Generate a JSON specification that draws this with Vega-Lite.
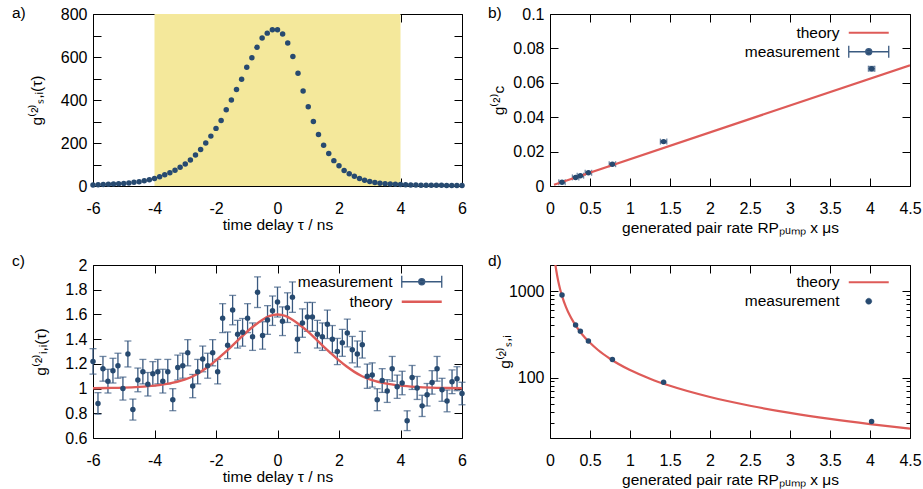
{
"$schema": "https://vega.github.io/schema/vega-lite/v6.json",
"background": "white",
"padding": {"left": 12, "top": 5, "right": 5, "bottom": 2},
"columns": 2,
"spacing": {"row": 79, "column": 88},
"bounds": "flush",
"resolve": {"scale": {"color": "independent", "fill": "independent", "stroke": "independent"}, "legend": {"color": "independent", "fill": "independent", "stroke": "independent"}},
"datasets": {
"a_shade": [{"x1": -4, "x2": 4, "y1": 0, "y2": 800}],
"a_pts": [
{"t":-6,"g":5},{"t":-5.833,"g":6},{"t":-5.667,"g":7},{"t":-5.5,"g":8},{"t":-5.333,"g":9},{"t":-5.167,"g":10},{"t":-5,"g":12},{"t":-4.833,"g":14},{"t":-4.667,"g":17},{"t":-4.5,"g":20},{"t":-4.333,"g":24},{"t":-4.167,"g":29},{"t":-4,"g":35},{"t":-3.833,"g":43},{"t":-3.667,"g":52},{"t":-3.5,"g":62},{"t":-3.333,"g":73},{"t":-3.167,"g":87},{"t":-3,"g":102},{"t":-2.833,"g":121},{"t":-2.667,"g":144},{"t":-2.5,"g":170},{"t":-2.333,"g":200},{"t":-2.167,"g":232},{"t":-2,"g":268},{"t":-1.833,"g":305},{"t":-1.667,"g":355},{"t":-1.5,"g":400},{"t":-1.333,"g":449},{"t":-1.167,"g":497},{"t":-1,"g":552},{"t":-0.833,"g":596},{"t":-0.667,"g":645},{"t":-0.5,"g":688},{"t":-0.333,"g":711},{"t":-0.167,"g":727},{"t":0,"g":727},{"t":0.167,"g":707},{"t":0.333,"g":665},{"t":0.5,"g":602},{"t":0.667,"g":524},{"t":0.833,"g":442},{"t":1,"g":369},{"t":1.167,"g":300},{"t":1.333,"g":240},{"t":1.5,"g":190},{"t":1.667,"g":151},{"t":1.833,"g":118},{"t":2,"g":94},{"t":2.167,"g":72},{"t":2.333,"g":57},{"t":2.5,"g":45},{"t":2.667,"g":35},{"t":2.833,"g":27},{"t":3,"g":21},{"t":3.167,"g":16},{"t":3.333,"g":13},{"t":3.5,"g":11},{"t":3.667,"g":9},{"t":3.833,"g":8},{"t":4,"g":7},{"t":4.167,"g":6},{"t":4.333,"g":5},{"t":4.5,"g":5},{"t":4.667,"g":4},{"t":4.833,"g":4},{"t":5,"g":3},{"t":5.167,"g":3},{"t":5.333,"g":3},{"t":5.5,"g":2},{"t":5.667,"g":2},{"t":5.833,"g":2},{"t":6,"g":2}
],
"b_pts": [
{"t":0.15,"g":0.0022,"ex":0.04,"ey":0.0004,"series":"measurement"},
{"t":0.32,"g":0.0050,"ex":0.04,"ey":0.0004,"series":"measurement"},
{"t":0.38,"g":0.0060,"ex":0.04,"ey":0.0004,"series":"measurement"},
{"t":0.48,"g":0.0077,"ex":0.04,"ey":0.0004,"series":"measurement"},
{"t":0.78,"g":0.0127,"ex":0.04,"ey":0.0005,"series":"measurement"},
{"t":1.42,"g":0.0258,"ex":0.04,"ey":0.0006,"series":"measurement"},
{"t":4.02,"g":0.0682,"ex":0.04,"ey":0.0013,"series":"measurement"}
],
"b_th": [{"t":0.05,"g":0.0007,"series":"theory"},{"t":4.5,"g":0.0702,"series":"theory"}],
"c_pts": [
{"t":-6,"g":1.22,"e":0.103,"series":"measurement"},
{"t":-5.838,"g":0.88,"e":0.087,"series":"measurement"},
{"t":-5.676,"g":1.16,"e":0.1,"series":"measurement"},
{"t":-5.514,"g":1.06,"e":0.096,"series":"measurement"},
{"t":-5.351,"g":1.145,"e":0.1,"series":"measurement"},
{"t":-5.189,"g":1.185,"e":0.101,"series":"measurement"},
{"t":-5.027,"g":1.0,"e":0.093,"series":"measurement"},
{"t":-4.865,"g":1.28,"e":0.105,"series":"measurement"},
{"t":-4.703,"g":0.83,"e":0.085,"series":"measurement"},
{"t":-4.541,"g":1.07,"e":0.096,"series":"measurement"},
{"t":-4.378,"g":1.137,"e":0.099,"series":"measurement"},
{"t":-4.216,"g":1.035,"e":0.095,"series":"measurement"},
{"t":-4.054,"g":1.12,"e":0.098,"series":"measurement"},
{"t":-3.892,"g":1.137,"e":0.099,"series":"measurement"},
{"t":-3.73,"g":1.06,"e":0.096,"series":"measurement"},
{"t":-3.568,"g":1.137,"e":0.099,"series":"measurement"},
{"t":-3.405,"g":0.91,"e":0.089,"series":"measurement"},
{"t":-3.243,"g":1.17,"e":0.101,"series":"measurement"},
{"t":-3.081,"g":1.185,"e":0.101,"series":"measurement"},
{"t":-2.919,"g":1.29,"e":0.106,"series":"measurement"},
{"t":-2.757,"g":1.02,"e":0.094,"series":"measurement"},
{"t":-2.595,"g":1.137,"e":0.099,"series":"measurement"},
{"t":-2.432,"g":1.24,"e":0.104,"series":"measurement"},
{"t":-2.27,"g":1.185,"e":0.101,"series":"measurement"},
{"t":-2.108,"g":1.29,"e":0.106,"series":"measurement"},
{"t":-1.946,"g":1.137,"e":0.099,"series":"measurement"},
{"t":-1.784,"g":1.57,"e":0.117,"series":"measurement"},
{"t":-1.622,"g":1.35,"e":0.108,"series":"measurement"},
{"t":-1.459,"g":1.635,"e":0.119,"series":"measurement"},
{"t":-1.297,"g":1.44,"e":0.112,"series":"measurement"},
{"t":-1.135,"g":1.455,"e":0.112,"series":"measurement"},
{"t":-0.973,"g":1.57,"e":0.117,"series":"measurement"},
{"t":-0.811,"g":1.42,"e":0.111,"series":"measurement"},
{"t":-0.649,"g":1.78,"e":0.124,"series":"measurement"},
{"t":-0.486,"g":1.43,"e":0.111,"series":"measurement"},
{"t":-0.324,"g":1.555,"e":0.116,"series":"measurement"},
{"t":-0.162,"g":1.63,"e":0.119,"series":"measurement"},
{"t":0,"g":1.7,"e":0.121,"series":"measurement"},
{"t":0.162,"g":1.545,"e":0.116,"series":"measurement"},
{"t":0.324,"g":1.655,"e":0.12,"series":"measurement"},
{"t":0.486,"g":1.74,"e":0.123,"series":"measurement"},
{"t":0.649,"g":1.4,"e":0.11,"series":"measurement"},
{"t":0.811,"g":1.53,"e":0.115,"series":"measurement"},
{"t":0.973,"g":1.58,"e":0.117,"series":"measurement"},
{"t":1.135,"g":1.58,"e":0.117,"series":"measurement"},
{"t":1.297,"g":1.44,"e":0.112,"series":"measurement"},
{"t":1.459,"g":1.42,"e":0.111,"series":"measurement"},
{"t":1.622,"g":1.52,"e":0.115,"series":"measurement"},
{"t":1.784,"g":1.4,"e":0.11,"series":"measurement"},
{"t":1.946,"g":1.3,"e":0.106,"series":"measurement"},
{"t":2.108,"g":1.37,"e":0.109,"series":"measurement"},
{"t":2.27,"g":1.45,"e":0.112,"series":"measurement"},
{"t":2.432,"g":1.315,"e":0.107,"series":"measurement"},
{"t":2.595,"g":1.28,"e":0.105,"series":"measurement"},
{"t":2.757,"g":1.355,"e":0.108,"series":"measurement"},
{"t":2.919,"g":1.1,"e":0.098,"series":"measurement"},
{"t":3.081,"g":1.11,"e":0.098,"series":"measurement"},
{"t":3.243,"g":0.91,"e":0.089,"series":"measurement"},
{"t":3.405,"g":1.065,"e":0.096,"series":"measurement"},
{"t":3.568,"g":0.98,"e":0.092,"series":"measurement"},
{"t":3.73,"g":1.16,"e":0.1,"series":"measurement"},
{"t":3.892,"g":1.015,"e":0.094,"series":"measurement"},
{"t":4.054,"g":1.045,"e":0.095,"series":"measurement"},
{"t":4.216,"g":0.74,"e":0.08,"series":"measurement"},
{"t":4.378,"g":1.09,"e":0.097,"series":"measurement"},
{"t":4.541,"g":1.005,"e":0.093,"series":"measurement"},
{"t":4.703,"g":0.86,"e":0.086,"series":"measurement"},
{"t":4.865,"g":0.95,"e":0.091,"series":"measurement"},
{"t":5.027,"g":1.05,"e":0.095,"series":"measurement"},
{"t":5.189,"g":1.16,"e":0.1,"series":"measurement"},
{"t":5.351,"g":0.99,"e":0.093,"series":"measurement"},
{"t":5.514,"g":0.9,"e":0.088,"series":"measurement"},
{"t":5.676,"g":1.055,"e":0.096,"series":"measurement"},
{"t":5.838,"g":1.08,"e":0.097,"series":"measurement"},
{"t":6,"g":0.96,"e":0.091,"series":"measurement"}
],
"c_th": [
{"t":-6,"g":1.003,"series":"theory"},{"t":-5.5,"g":1.005,"series":"theory"},{"t":-5,"g":1.008,"series":"theory"},{"t":-4.5,"g":1.014,"series":"theory"},{"t":-4,"g":1.024,"series":"theory"},{"t":-3.5,"g":1.042,"series":"theory"},{"t":-3,"g":1.075,"series":"theory"},{"t":-2.75,"g":1.1,"series":"theory"},{"t":-2.5,"g":1.135,"series":"theory"},{"t":-2.25,"g":1.178,"series":"theory"},{"t":-2,"g":1.228,"series":"theory"},{"t":-1.75,"g":1.283,"series":"theory"},{"t":-1.5,"g":1.34,"series":"theory"},{"t":-1.25,"g":1.4,"series":"theory"},{"t":-1,"g":1.458,"series":"theory"},{"t":-0.75,"g":1.51,"series":"theory"},{"t":-0.5,"g":1.555,"series":"theory"},{"t":-0.25,"g":1.588,"series":"theory"},{"t":0,"g":1.6,"series":"theory"},{"t":0.25,"g":1.588,"series":"theory"},{"t":0.5,"g":1.555,"series":"theory"},{"t":0.75,"g":1.51,"series":"theory"},{"t":1,"g":1.458,"series":"theory"},{"t":1.25,"g":1.4,"series":"theory"},{"t":1.5,"g":1.34,"series":"theory"},{"t":1.75,"g":1.283,"series":"theory"},{"t":2,"g":1.228,"series":"theory"},{"t":2.25,"g":1.178,"series":"theory"},{"t":2.5,"g":1.135,"series":"theory"},{"t":2.75,"g":1.1,"series":"theory"},{"t":3,"g":1.075,"series":"theory"},{"t":3.5,"g":1.042,"series":"theory"},{"t":4,"g":1.024,"series":"theory"},{"t":4.5,"g":1.014,"series":"theory"},{"t":5,"g":1.008,"series":"theory"},{"t":5.5,"g":1.005,"series":"theory"},{"t":6,"g":1.003,"series":"theory"}
],
"d_pts": [
{"t":0.15,"g":900,"series":"measurement"},{"t":0.32,"g":404,"series":"measurement"},{"t":0.38,"g":344,"series":"measurement"},{"t":0.48,"g":265,"series":"measurement"},{"t":0.78,"g":162,"series":"measurement"},{"t":1.42,"g":88,"series":"measurement"},{"t":4.02,"g":31,"series":"measurement"}
],
"d_th": [
{"t":0.065,"g":2100,"series":"theory"},{"t":0.07,"g":1944,"series":"theory"},{"t":0.08,"g":1692,"series":"theory"},{"t":0.1,"g":1342,"series":"theory"},{"t":0.125,"g":1064,"series":"theory"},{"t":0.15,"g":880,"series":"theory"},{"t":0.2,"g":652,"series":"theory"},{"t":0.25,"g":517,"series":"theory"},{"t":0.3,"g":428,"series":"theory"},{"t":0.4,"g":317,"series":"theory"},{"t":0.5,"g":252,"series":"theory"},{"t":0.6,"g":208,"series":"theory"},{"t":0.75,"g":165,"series":"theory"},{"t":1,"g":122,"series":"theory"},{"t":1.25,"g":97,"series":"theory"},{"t":1.5,"g":80.2,"series":"theory"},{"t":2,"g":59.5,"series":"theory"},{"t":2.5,"g":47.2,"series":"theory"},{"t":3,"g":39,"series":"theory"},{"t":3.5,"g":33.2,"series":"theory"},{"t":4,"g":28.9,"series":"theory"},{"t":4.5,"g":25.6,"series":"theory"}
]
},
"concat": [
{
"width": 369, "height": 172,
"title": {"text": "a)", "dx": -81, "dy": 15, "offset": 0},
"layer": [
{"data": {"name": "a_shade"}, "mark": {"type": "rect", "color": "#f4e89b"},
 "encoding": {
  "x": {"field": "x1", "type": "quantitative", "scale": {"domain": [-6, 6], "nice": false, "zero": false}, "axis": {"orient": "top", "labels": false, "title": null, "values": [-6, -4, -2, 0, 2, 4, 6]}},
  "x2": {"field": "x2"},
  "y": {"field": "y1", "type": "quantitative", "scale": {"domain": [0, 800], "nice": false}, "axis": {"orient": "right", "labels": false, "title": null, "values": [0, 100, 200, 300, 400, 500, 600, 700, 800]}},
  "y2": {"field": "y2"}
 }},
{"data": {"name": "a_pts"}, "mark": {"type": "point", "filled": true, "size": 30, "color": "#274a70", "opacity": 1},
 "encoding": {
  "x": {"field": "t", "type": "quantitative", "axis": {"orient": "bottom", "title": "time delay τ / ns", "values": [-6, -4, -2, 0, 2, 4, 6], "labelExpr": "replace(datum.label, '−', '-')"}},
  "y": {"field": "g", "type": "quantitative", "axis": {"orient": "left", "title": "g⁽²⁾ₛ,ᵢ(τ)", "titlePadding": 16, "values": [0, 100, 200, 300, 400, 500, 600, 700, 800], "labelExpr": "datum.value % 200 === 0 ? datum.label : ''"}}
 }}
],
"resolve": {"axis": {"x": "independent", "y": "independent"}}
},
{
"width": 360, "height": 172,
"title": {"text": "b)", "dx": -62, "dy": 15, "offset": 0},
"layer": [
{"data": {"name": "b_pts"}, "mark": {"type": "errorbar", "ticks": {"size": 6}, "thickness": 1.3, "color": "#3a5a80"},
 "encoding": {"x": {"field": "t", "type": "quantitative", "axis": null}, "xError": {"field": "ex"}, "y": {"field": "g", "type": "quantitative", "axis": null}}},
{"data": {"name": "b_pts"}, "mark": {"type": "errorbar", "ticks": {"size": 6}, "thickness": 1.3, "color": "#3a5a80"},
 "encoding": {"x": {"field": "t", "type": "quantitative", "axis": null}, "y": {"field": "g", "type": "quantitative", "axis": null}, "yError": {"field": "ey"}}},
{"data": {"name": "b_th"}, "mark": {"type": "line", "strokeWidth": 2.2, "clip": true},
 "encoding": {
  "x": {"field": "t", "type": "quantitative", "axis": {"orient": "top", "labels": false, "title": null, "values": [0, 0.5, 1, 1.5, 2, 2.5, 3, 3.5, 4, 4.5]}},
  "y": {"field": "g", "type": "quantitative", "axis": {"orient": "right", "labels": false, "title": null, "values": [0, 0.02, 0.04, 0.06, 0.08, 0.1]}},
  "stroke": {"field": "series", "type": "nominal", "scale": {"domain": ["theory"], "range": ["#de5b58"]},
   "legend": {"title": null, "orient": "none", "legendX": 311, "legendY": 11, "symbolType": "M-7.3,0H7.3", "symbolSize": 30, "symbolStrokeWidth": 2.2}}
 }},
{"data": {"name": "b_pts"}, "mark": {"type": "point", "filled": true, "size": 30, "opacity": 1},
 "encoding": {
  "x": {"field": "t", "type": "quantitative", "scale": {"domain": [0, 4.5], "nice": false, "zero": false}, "axis": {"orient": "bottom", "title": "generated pair rate RPₚᵤₘₚ x μs", "values": [0, 0.5, 1, 1.5, 2, 2.5, 3, 3.5, 4, 4.5], "format": "~g", "titlePadding": 4}},
  "y": {"field": "g", "type": "quantitative", "scale": {"domain": [0, 0.1], "nice": false}, "axis": {"orient": "left", "title": "g⁽²⁾c", "titlePadding": 6, "values": [0, 0.02, 0.04, 0.06, 0.08, 0.1], "format": "~g"}},
  "fill": {"field": "series", "type": "nominal", "scale": {"domain": ["measurement"], "range": ["#274a70"]},
   "legend": {"title": null, "orient": "none", "legendX": 311, "legendY": 30, "symbolType": "M-7.3,0H7.3M-7.3,-2.2V2.2M7.3,-2.2V2.2M-1.1,0A1.1,1.1 0 1 0 1.1,0A1.1,1.1 0 1 0 -1.1,0Z", "symbolSize": 30, "symbolStrokeColor": "#3a5a80", "symbolStrokeWidth": 1.3}}
 }}
],
"resolve": {"axis": {"x": "independent", "y": "independent"}}
},
{
"width": 369, "height": 173,
"title": {"text": "c)", "dx": -81, "dy": 12, "offset": 0},
"layer": [
{"data": {"name": "c_pts"}, "mark": {"type": "errorbar", "ticks": {"size": 7}, "thickness": 1.3, "color": "#3a5a80"},
 "encoding": {"x": {"field": "t", "type": "quantitative", "axis": null}, "y": {"field": "g", "type": "quantitative", "axis": null}, "yError": {"field": "e"}}},
{"data": {"name": "c_th"}, "mark": {"type": "line", "strokeWidth": 2.4, "interpolate": "monotone"},
 "encoding": {
  "x": {"field": "t", "type": "quantitative", "axis": {"orient": "top", "labels": false, "title": null, "values": [-6, -4, -2, 0, 2, 4, 6]}},
  "y": {"field": "g", "type": "quantitative", "axis": {"orient": "right", "labels": false, "title": null, "values": [0.6, 0.8, 1, 1.2, 1.4, 1.6, 1.8, 2]}},
  "stroke": {"field": "series", "type": "nominal", "scale": {"domain": ["theory"], "range": ["#de5b58"]},
   "legend": {"title": null, "orient": "none", "legendX": 321, "legendY": 29, "symbolType": "M-7.3,0H7.3", "symbolSize": 30, "symbolStrokeWidth": 2.4}}
 }},
{"data": {"name": "c_pts"}, "mark": {"type": "point", "filled": true, "size": 30, "opacity": 1},
 "encoding": {
  "x": {"field": "t", "type": "quantitative", "scale": {"domain": [-6, 6], "nice": false, "zero": false}, "axis": {"orient": "bottom", "title": "time delay τ / ns", "values": [-6, -4, -2, 0, 2, 4, 6], "labelExpr": "replace(datum.label, '−', '-')"}},
  "y": {"field": "g", "type": "quantitative", "scale": {"domain": [0.6, 2], "nice": false, "zero": false}, "axis": {"orient": "left", "title": "g⁽²⁾ᵢ,ᵢ(τ)", "titlePadding": 16, "values": [0.6, 0.8, 1, 1.2, 1.4, 1.6, 1.8, 2], "format": "~g"}},
  "fill": {"field": "series", "type": "nominal", "scale": {"domain": ["measurement"], "range": ["#274a70"]},
   "legend": {"title": null, "orient": "none", "legendX": 321, "legendY": 9, "symbolType": "M-7.3,0H7.3M-7.3,-2.2V2.2M7.3,-2.2V2.2M-1.1,0A1.1,1.1 0 1 0 1.1,0A1.1,1.1 0 1 0 -1.1,0Z", "symbolSize": 30, "symbolStrokeColor": "#3a5a80", "symbolStrokeWidth": 1.3}}
 }}
],
"resolve": {"axis": {"x": "independent", "y": "independent"}}
},
{
"width": 360, "height": 173,
"title": {"text": "d)", "dx": -62, "dy": 12, "offset": 0},
"layer": [
{"data": {"name": "d_th"}, "mark": {"type": "line", "strokeWidth": 2.2, "interpolate": "monotone", "clip": true},
 "encoding": {
  "x": {"field": "t", "type": "quantitative", "axis": {"orient": "top", "labels": false, "title": null, "values": [0, 0.5, 1, 1.5, 2, 2.5, 3, 3.5, 4, 4.5]}},
  "y": {"field": "g", "type": "quantitative", "axis": {"orient": "right", "labels": false, "title": null, "values": [20, 30, 40, 50, 60, 70, 80, 90, 100, 200, 300, 400, 500, 600, 700, 800, 900, 1000, 2000], "tickSize": {"condition": {"test": "datum.value === 100 || datum.value === 1000", "value": -8}, "value": -4}}},
  "stroke": {"field": "series", "type": "nominal", "scale": {"domain": ["theory"], "range": ["#de5b58"]},
   "legend": {"title": null, "orient": "none", "legendX": 311, "legendY": 9.5, "symbolType": "M-7.3,0H7.3", "symbolSize": 30, "symbolStrokeWidth": 2.2}}
 }},
{"data": {"name": "d_pts"}, "mark": {"type": "point", "filled": true, "size": 30, "opacity": 1},
 "encoding": {
  "x": {"field": "t", "type": "quantitative", "scale": {"domain": [0, 4.5], "nice": false, "zero": false}, "axis": {"orient": "bottom", "title": "generated pair rate RPₚᵤₘₚ x μs", "values": [0, 0.5, 1, 1.5, 2, 2.5, 3, 3.5, 4, 4.5], "format": "~g", "titlePadding": 4}},
  "y": {"field": "g", "type": "quantitative", "scale": {"type": "log", "domain": [20, 2000], "nice": false}, "axis": {"orient": "left", "title": "g⁽²⁾ₛ,ᵢ", "titlePadding": -4, "values": [20, 30, 40, 50, 60, 70, 80, 90, 100, 200, 300, 400, 500, 600, 700, 800, 900, 1000, 2000], "format": "d", "labelExpr": "datum.value === 100 || datum.value === 1000 ? datum.label : ''", "tickSize": {"condition": {"test": "datum.value === 100 || datum.value === 1000", "value": -8}, "value": -4}}},
  "fill": {"field": "series", "type": "nominal", "scale": {"domain": ["measurement"], "range": ["#274a70"]},
   "legend": {"title": null, "orient": "none", "legendX": 311, "legendY": 28.5, "symbolType": "M-1.1,0A1.1,1.1 0 1 0 1.1,0A1.1,1.1 0 1 0 -1.1,0Z", "symbolSize": 30, "symbolStrokeColor": "#274a70", "symbolStrokeWidth": 0.5}}
 }}
],
"resolve": {"axis": {"x": "independent", "y": "independent"}}
}
],
"config": {
 "font": "Liberation Sans",
 "view": {"stroke": null},
 "axis": {"grid": false, "domain": true, "domainColor": "#000", "domainWidth": 1, "tickColor": "#000", "tickWidth": 1, "tickSize": -8, "labelFontSize": 16, "labelColor": "#000", "labelFont": "Liberation Sans", "titleFont": "Liberation Sans", "titleFontSize": 15.5, "titleFontWeight": "normal", "titleColor": "#000", "labelFlush": false, "labelOverlap": false, "zindex": 1},
 "axisBottom": {"labelPadding": 22, "titlePadding": 1},
 "axisLeft": {"labelPadding": 14, "titlePadding": 8},
 "title": {"fontSize": 15.5, "fontWeight": "normal", "color": "#000", "anchor": "start", "frame": "group", "font": "Liberation Sans"},
 "legend": {"labelAlign": "right", "labelBaseline": "middle", "labelOffset": -37, "columns": 1, "labelFontSize": 15.5, "labelColor": "#000", "labelFont": "Liberation Sans", "padding": 0, "symbolOpacity": 1}
}
}
